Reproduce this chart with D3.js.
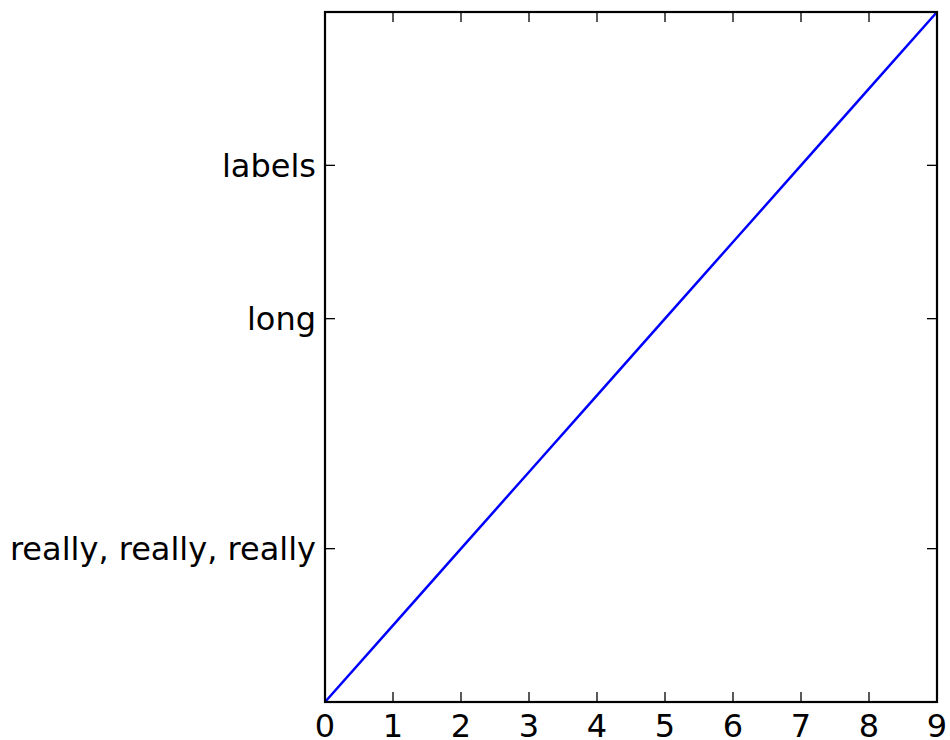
<!DOCTYPE html>
<html><head><meta charset="utf-8">
<script src="https://cdn.jsdelivr.net/npm/d3@7"></script>
<style>body{margin:0;background:#fff}</style>
</head><body>
<svg id="chart" width="950" height="740"></svg>
<script>
const xValues = [0,1,2,3,4,5,6,7,8,9];
const yValues = [0,1,2,3,4,5,6,7,8,9];
const xTicks = [0,1,2,3,4,5,6,7,8,9];
const yTickValues = [2,5,7];
const yTickLabels = ["really, really, really","long","labels"];

const svg = d3.select("#chart");
const L=325, R=937, T=12, B=702;
const x = d3.scaleLinear().domain([0,9]).range([L,R]);
const y = d3.scaleLinear().domain([0,9]).range([B,T]);
const font = "'DejaVu Sans', sans-serif";
const fs = 32;

svg.append("path")
  .datum(xValues.map((v,i)=>[v,yValues[i]]))
  .attr("d", d3.line().x(d=>x(d[0])).y(d=>y(d[1])))
  .attr("fill","none").attr("stroke","#0000ff").attr("stroke-width",2.5);

const tl = 10;
xTicks.forEach(v=>{
  svg.append("line").attr("x1",x(v)).attr("x2",x(v)).attr("y1",B).attr("y2",B-tl).attr("stroke","#000").attr("stroke-width",1.3);
  svg.append("line").attr("x1",x(v)).attr("x2",x(v)).attr("y1",T).attr("y2",T+tl).attr("stroke","#000").attr("stroke-width",1.3);
  svg.append("text").attr("x",x(v)).attr("y",737).attr("text-anchor","middle")
    .attr("font-family",font).attr("font-size",fs).text(v);
});
yTickValues.forEach((v,i)=>{
  svg.append("line").attr("x1",L).attr("x2",L+tl).attr("y1",y(v)).attr("y2",y(v)).attr("stroke","#000").attr("stroke-width",1.3);
  svg.append("line").attr("x1",R).attr("x2",R-tl).attr("y1",y(v)).attr("y2",y(v)).attr("stroke","#000").attr("stroke-width",1.3);
  svg.append("text").attr("x",L-9).attr("y",y(v)).attr("dy","0.35em").attr("text-anchor","end")
    .attr("font-family",font).attr("font-size",fs).text(yTickLabels[i]);
});
svg.append("rect").attr("x",L).attr("y",T).attr("width",R-L).attr("height",B-T)
  .attr("fill","none").attr("stroke","#000").attr("stroke-width",2.2);
</script>
</body></html>
